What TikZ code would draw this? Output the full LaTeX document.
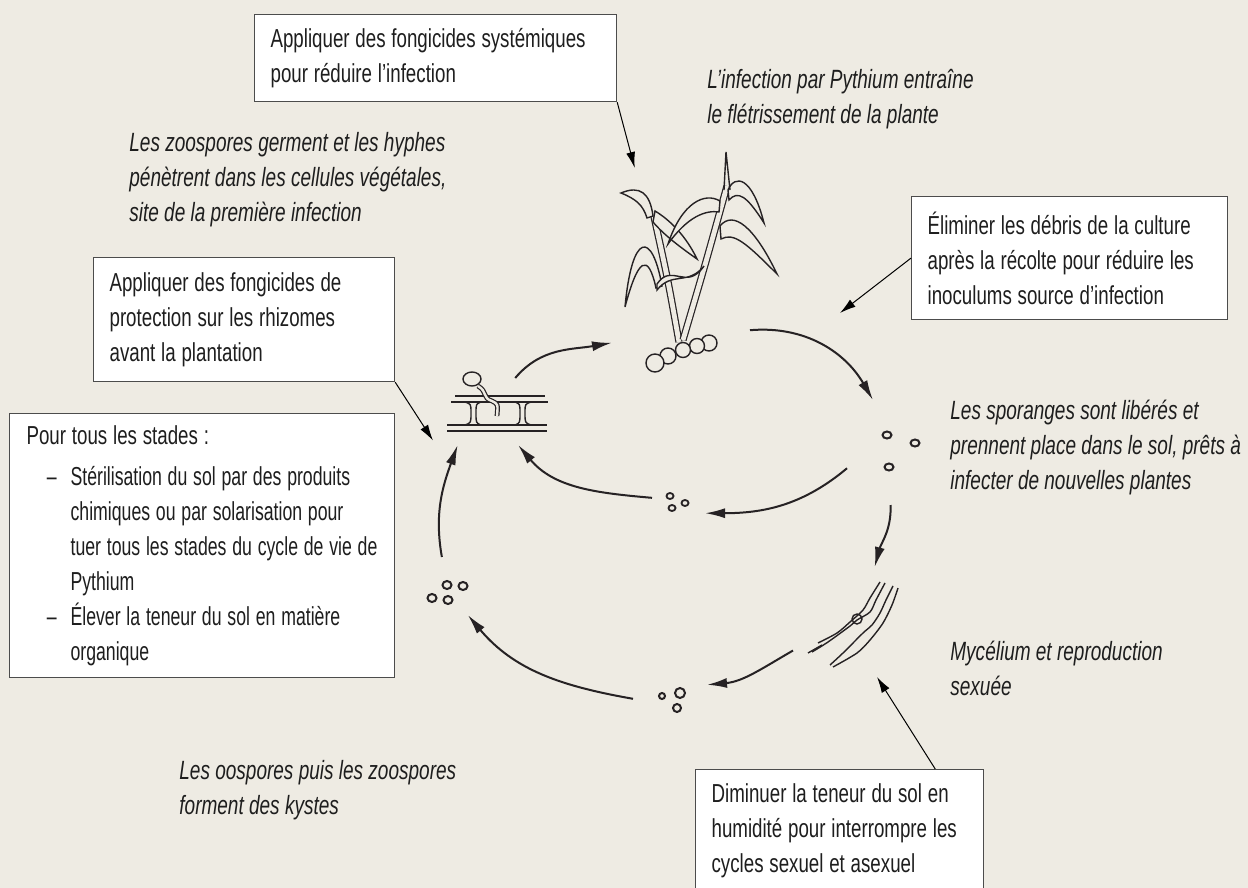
\documentclass[tikz,border=0pt]{standalone}
\usepackage{fontspec}
\setmainfont{Liberation Sans}[FakeStretch=0.72]
\newfontfamily\serree{Liberation Sans}[FakeStretch=0.68]
\usetikzlibrary{arrows.meta}

\definecolor{fond}{RGB}{238,235,227}
\definecolor{trait}{RGB}{38,34,36}
\definecolor{texte}{RGB}{30,30,30}
\newcommand{\policeboite}{\fontsize{13}{17.5}\selectfont\spaceskip=2.9pt plus 1pt minus 0.5pt\relax}

\tikzset{
	conseil/.style={draw=black!70, line width=0.6pt, fill=white, anchor=north west, align=flush left, inner xsep=8pt, inner ysep=0pt, text=texte, font=\policeboite},
	legende/.style={anchor=west, align=left, inner sep=0pt, text=texte, font=\fontsize{13.2}{17.5}\selectfont\itshape},
	stade/.style={rectangle, inner sep=0pt, outer sep=0pt},
	fleche/.style={draw=trait, line width=1pt, -{Latex[length=10pt,width=5pt]}},
	renvoi/.style={draw=black, line width=0.5pt, -{Latex[length=8pt,width=4.5pt]}},
	dessin/.style={draw=trait, line width=0.7pt},
	tige/.style={draw=trait, line width=0.6pt, double=fond, double distance=2.4pt},
}

\begin{document}
\begin{tikzpicture}[x=0.5pt, y=-0.5pt]
	% cycle de vie de Pythium
	\fill[fond] (0,0) rectangle (1248,888);
	\useasboundingbox (0,0) rectangle (1248,888);

	\node[conseil, minimum width=181pt, minimum height=43.5pt, text width=165pt] (F1) at (254,14) {Appliquer des fongicides systémiques\\pour réduire l’infection};
	\node[conseil, minimum width=150.5pt, minimum height=62pt, text width=134.5pt] (F2) at (93,257) {Appliquer des fongicides de\\protection sur les rhizomes\\avant la plantation};
	\node[conseil, minimum width=192.5pt, minimum height=132pt, text width=175.5pt, inner xsep=8.5pt] (F3) at (9,413) {Pour tous les stades :\par\vspace{3pt}
		{\serree\policeboite\leftskip=22pt\noindent\llap{–\hspace{7pt}}\mbox{Stérilisation du sol par des produits}\\\mbox{chimiques ou par solarisation pour}\\\mbox{tuer tous les stades du cycle de vie de}\\Pythium\par}
		{\serree\policeboite\leftskip=22pt\noindent\llap{–\hspace{7pt}}\mbox{Élever la teneur du sol en matière}\\organique\par}};
	\node[conseil, minimum width=158pt, minimum height=61.5pt, text width=142pt] (F4) at (911,196) {Éliminer les débris de la culture\\après la récolte pour réduire les\\inoculums source d’infection};
	\node[conseil, minimum width=144pt, minimum height=61.5pt, text width=128pt] (F5) at (695,769) {Diminuer la teneur du sol en\\humidité pour interrompre les\\cycles sexuel et asexuel};

	\node[legende] (L1) at (129,180) {Les zoospores germent et les hyphes\\pénètrent dans les cellules végétales,\\site de la première infection};
	\node[legende] (L2) at (707,99.5) {L’infection par Pythium entraîne\\le flétrissement de la plante};
	\node[legende] (L3) at (950,447.5) {Les sporanges sont libérés et\\prennent place dans le sol, prêts à\\infecter de nouvelles plantes};
	\node[legende] (L4) at (950,668) {Mycélium et reproduction\\sexuée};
	\node[legende] (L5) at (179,790) {Les oospores puis les zoospores\\forment des kystes};

	\node[stade, minimum width=69pt, minimum height=30pt] (Rc) at (681,350) {};
	\node[stade, minimum width=76.5pt, minimum height=76pt] (Pl) at (698.5,244) {};
	\node[stade, minimum width=39pt, minimum height=52.5pt] (Sp) at (886,452.5) {};
	\node[stade, minimum width=56pt, minimum height=55pt] (My) at (849,622) {};
	\node[stade, minimum width=37pt, minimum height=17.5pt] (Oo) at (670,697.5) {};
	\node[stade, minimum width=22.5pt, minimum height=29pt] (Ky) at (447.5,586) {};
	\node[stade, minimum width=57pt, minimum height=33.5pt] (Rh) at (490,411.5) {};
	\node[stade, minimum width=26.5pt, minimum height=12.5pt] (Zo) at (678.5,502.5) {};
	\coordinate (Db) at (840,313);

	% plante
	\draw[tige] (679,342) .. controls (668,280) .. (653,212);
	\draw[tige] (683,340) .. controls (706,262) .. (727,186);
	\draw[dessin, fill=fond] (653,216) .. controls (650,193) and (640,185) .. (621,193) .. controls (636,199) and (643,205) .. (647,218) -- cycle;
	\draw[dessin, fill=fond] (662,286) .. controls (652,230) and (632,232) .. (625,307) .. controls (638,258) and (648,252) .. (656,288) -- cycle;
	\draw[dessin, fill=fond] (655,211) .. controls (670,220) and (686,236) .. (697,259) .. controls (680,247) and (664,235) .. (653,222) -- cycle;
	\draw[dessin, fill=fond] (720,201) .. controls (705,192) and (682,202) .. (668,244) .. controls (688,216) and (706,210) .. (719,212) -- cycle;
	\draw[dessin, fill=fond] (657,284) .. controls (672,262) and (686,292) .. (704,266) .. controls (688,286) and (672,271) .. (657,290) -- cycle;
	\draw[dessin, fill=fond] (728,190) .. controls (735,174) and (752,176) .. (764,223) .. controls (747,196) and (738,190) .. (729,200) -- cycle;
	\draw[dessin, fill=fond] (720,226) .. controls (733,210) and (754,226) .. (777,274) .. controls (746,243) and (734,232) .. (721,239) -- cycle;
	\draw[dessin] (724,190) -- (726,152) -- (730,190);
	\foreach \x/\y/\r in {709/343/8, 697/346/7.5, 683/350/7.5, 668/356/8, 655/363/9}
		\draw[dessin, fill=fond] (\x,\y) circle[radius=\r];

	% rhizome et zoospore
	\draw[dessin] (455,396) -- (545,396);
	\draw[dessin] (451,402) -- (548,402);
	\draw[dessin] (447,425) -- (547,425);
	\draw[dessin] (447,431) -- (547,431);
	\draw[dessin] (465,402) .. controls (471,404) .. (471,413) .. controls (471,423) .. (465,425);
	\draw[dessin] (481,402) .. controls (476,404) .. (476,413) .. controls (476,423) .. (481,425);
	\draw[dessin] (515,402) .. controls (520,404) .. (520,413) .. controls (520,423) .. (515,425);
	\draw[dessin] (531,402) .. controls (525,404) .. (525,413) .. controls (525,423) .. (531,425);
	\draw[dessin] (472,379) ellipse[x radius=9, y radius=7];
	\draw[tige, double distance=1.2pt] (478,386) .. controls (488,392) and (482,398) .. (492,401) .. controls (498,404) .. (497,416);

	% mycelium
	\draw[dessin] plot[smooth] coordinates {(880,582) (870,598) (863,610) (850,622) (837,633) (818,643)};
	\draw[dessin] plot[smooth] coordinates {(885,583) (876,600) (870,612) (857,620) (850,626) (828,642) (812,652)};
	\draw[dessin] plot[smooth] coordinates {(893,586) (886,600) (880,613) (872,625) (863,633) (843,653) (830,665)};
	\draw[dessin] plot[smooth] coordinates {(898,588) (892,605) (883,623) (870,640) (857,653) (833,667)};
	\draw[dessin] (808,653) -- (822,645);
	\draw[dessin] (857,619) circle[radius=5];

	% spores
	\foreach \x/\y in {887/435, 915/443, 889/467}
		\draw[dessin, line width=1pt] (\x,\y) ellipse[x radius=4.5, y radius=3.5];
	\foreach \x/\y in {670/496, 672/508, 685/503}
		\draw[dessin, line width=0.9pt] (\x,\y) ellipse[x radius=3.5, y radius=3];
	\foreach \x/\y in {447/585, 463/586, 432/598, 448/600}
		\draw[dessin, line width=1pt] (\x,\y) ellipse[x radius=4.5, y radius=4];
	\draw[dessin, line width=1pt] (662,696) circle[radius=3];
	\draw[dessin, line width=1pt] (680,693) circle[radius=5];
	\draw[dessin, line width=1pt] (677,708) circle[radius=4];

	\draw[fleche] (Rh.53) to[out=50, in=190] (Rc.174);
	\draw[fleche] (Rc.16) to[out=5, in=120] (Sp.104);
	\draw[fleche] (Sp.-85) to[out=-88, in=75] (My.65);
	\draw[fleche] (My.207) to[out=-150, in=5] (Oo.19);
	\draw[fleche] (Oo.182) to[out=170, in=-50] (Ky.-55);
	\draw[fleche] (Ky.101) to[out=100, in=250] (Rh.226);
	\draw[fleche] (Sp.202) to[out=-140, in=0] (Zo.-22);
	\draw[fleche] (Zo.170) to[out=175, in=-50] (Rh.-50);

	\draw[renvoi] (F1.south east) -- (Pl.130);
	\draw[renvoi] (F4.west) -- (Db);
	\draw[renvoi] (F2.south east) -- (Rh.207);
	\draw[renvoi] (F5.33) -- (My.-63);
\end{tikzpicture}
\end{document}
